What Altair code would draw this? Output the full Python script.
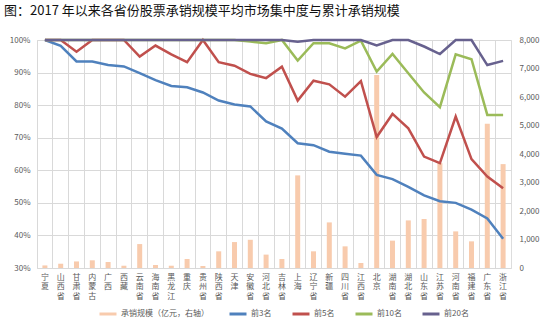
import altair as alt
import pandas as pd

provinces = ["宁夏", "山西省", "甘肃省", "内蒙古", "广西", "西藏", "云南省", "海南省", "黑龙江", "重庆",
             "贵州省", "陕西省", "天津", "安徽省", "河北省", "吉林省", "上海", "辽宁省", "新疆", "四川省",
             "江西省", "北京", "湖南省", "湖北省", "山东省", "江苏省", "河南省", "福建省", "广东省", "浙江省"]

top3 = [100.0, 98.2, 93.4, 93.4, 92.3, 91.9, 89.8, 87.7, 85.9, 85.5,
        83.9, 81.4, 80.2, 79.6, 75.0, 72.8, 68.3, 67.7, 65.7, 65.1,
        64.5, 58.6, 57.3, 54.9, 52.3, 50.5, 50.0, 47.9, 45.2, 39.0]
top5 = [100.0, 100.0, 96.4, 100.0, 100.0, 100.0, 94.9, 98.3, 95.6, 93.2,
        100.0, 93.2, 92.1, 89.6, 88.3, 91.8, 81.4, 87.5, 86.4, 82.6,
        87.4, 70.2, 77.3, 72.9, 64.2, 62.2, 76.5, 63.4, 58.1, 54.5]
top10 = [100.0, 100.0, 100.0, 100.0, 100.0, 100.0, 100.0, 100.0, 100.0, 100.0,
         100.0, 100.0, 100.0, 99.5, 99.0, 100.0, 93.7, 99.0, 99.0, 97.4,
         99.8, 90.3, 95.7, 89.8, 83.9, 79.4, 95.6, 94.1, 77.0, 77.0]
top20 = [100.0, 100.0, 100.0, 100.0, 100.0, 100.0, 100.0, 100.0, 100.0, 100.0,
         100.0, 100.0, 100.0, 100.0, 100.0, 100.0, 99.5, 100.0, 100.0, 100.0,
         100.0, 98.3, 100.0, 100.0, 98.0, 95.7, 100.0, 100.0, 92.3, 93.6]
volume = [90, 150, 230, 270, 210, 80, 840, 105, 80, 315,
          70, 585, 910, 990, 470, 315, 3250, 585, 1600, 760,
          175, 6775, 960, 1670, 1720, 3680, 1285, 935, 5060, 3645]

bar_name = "承销规模（亿元，右轴）"
series_names = ["前3名", "前5名", "前10名", "前20名"]
legend_domain = [bar_name] + series_names
legend_colors = ["#F8CBAD", "#4F81BD", "#C0504D", "#9BBB59", "#67618E"]

df = pd.DataFrame({
    "省份": provinces,
    "承销规模": volume,
    "前3名": [v / 100 for v in top3],
    "前5名": [v / 100 for v in top5],
    "前10名": [v / 100 for v in top10],
    "前20名": [v / 100 for v in top20],
})

FONT = "Noto Sans CJK SC"
GRID = "#D9D9D9"
LABEL = "#595959"

xscale = alt.Scale(paddingInner=0, paddingOuter=0)

color_scale = alt.Scale(domain=legend_domain, range=legend_colors)
legend = alt.Legend(
    title=None, orient="none", direction="horizontal",
    legendX=61, legendY=264,
    symbolType="stroke", symbolSize=289, symbolStrokeWidth=3,
    labelFont=FONT, labelFontSize=8, labelColor=LABEL,
    columnPadding=14, labelOffset=3,
)

bars = alt.Chart(df).transform_calculate(系列=f"'{bar_name}'").mark_bar(size=5).encode(
    x=alt.X("省份:N", sort=provinces, scale=xscale,
            axis=alt.Axis(orient="top", title=None, labels=False, ticks=False, domain=False,
                          grid=True, gridColor=GRID, bandPosition=0)),
    y=alt.Y("承销规模:Q", scale=alt.Scale(domain=[0, 8000], nice=False),
            axis=alt.Axis(orient="right", title=None, grid=False, ticks=False, domain=False,
                          values=list(range(0, 8001, 1000)), labelFont=FONT, labelFontSize=8,
                          labelColor=LABEL, labelPadding=8)),
    color=alt.Color("系列:N", scale=color_scale, legend=legend),
)

def line_layer(name):
    return alt.Chart(df).transform_calculate(系列=f"'{name}'").mark_line(strokeWidth=2.5).encode(
        x=alt.X("省份:N", sort=provinces, scale=xscale,
                axis=alt.Axis(orient="bottom", title=None, labelAngle=0, grid=False, ticks=False,
                              domain=False, labelExpr="split(datum.label, '')",
                              labelLineHeight=9.6, labelFont=FONT, labelFontSize=8,
                              labelColor=LABEL, labelPadding=5, labelOverlap=False,
                              labelBaseline="top")),
        y=alt.Y(f"{name}:Q", scale=alt.Scale(domain=[0.3, 1.0], nice=False),
                axis=alt.Axis(orient="left", title=None, format=".0%", grid=True, gridColor=GRID,
                              ticks=False, domain=False, values=[0.3, 0.4, 0.5, 0.6, 0.7, 0.8, 0.9, 1.0],
                              labelFont=FONT, labelFontSize=8, labelColor=LABEL, labelPadding=7)),
        color=alt.Color("系列:N", scale=color_scale, legend=legend),
    )

lines = alt.layer(*[line_layer(n) for n in series_names])

chart = alt.layer(bars, lines).resolve_scale(y="independent").resolve_axis(x="independent").properties(
    width=474, height=228,
    autosize=alt.AutoSizeParams(type="none"),
    padding={"left": 37, "top": 40, "right": 43, "bottom": 59},
    title=alt.TitleParams(
        "图：2017 年以来各省份股票承销规模平均市场集中度与累计承销规模",
        anchor="start", frame="group", font=FONT, fontSize=13, fontWeight="normal",
        color="#111111", dx=-33, offset=4, baseline="bottom",
    ),
).configure_view(stroke=GRID).configure(background="white")

chart.save("out.html", embed_options={"renderer": "svg", "actions": False})
